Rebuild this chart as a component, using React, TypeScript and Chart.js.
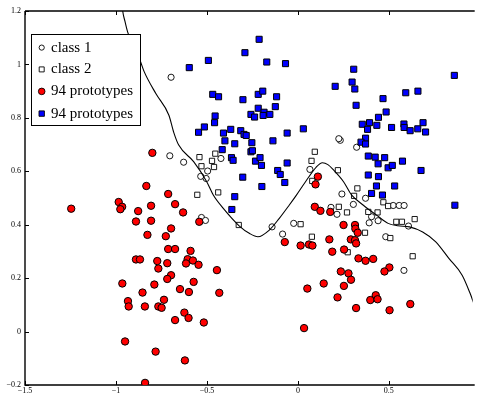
import React, { useEffect, useRef } from 'react';
import { Chart, registerables } from 'chart.js';

Chart.register(...registerables);

// ---- data ----
const class1X = [-0.697, -0.704, -0.423, -0.628, -0.496, -0.534, -0.504, 0.066, 0.233, 0.225, 0.323, 0.242, 0.182, 0.215, 0.305, 0.372, 0.405, 0.392, 0.441, 0.524, 0.557, 0.584, 0.608, 0.483, 0.583, -0.530, -0.508, -0.142, -0.084, -0.023];
const class1Y = [0.952, 0.658, 0.648, 0.634, 0.601, 0.581, 0.573, 0.607, 0.716, 0.722, 0.690, 0.515, 0.465, 0.439, 0.476, 0.499, 0.430, 0.407, 0.415, 0.472, 0.472, 0.472, 0.395, 0.355, 0.229, 0.427, 0.416, 0.392, 0.365, 0.405];

const class2X = [-0.454, -0.541, -0.472, -0.530, -0.461, -0.553, -0.438, 0.093, 0.075, 0.079, 0.220, 0.327, 0.309, 0.225, 0.270, 0.387, 0.438, 0.470, 0.496, 0.541, 0.572, 0.642, 0.369, 0.508, 0.274, 0.631, -0.325, 0.015, 0.077];
const class2Y = [0.666, 0.653, 0.639, 0.619, 0.616, 0.512, 0.521, 0.673, 0.639, 0.564, 0.604, 0.536, 0.508, 0.467, 0.446, 0.448, 0.446, 0.484, 0.470, 0.411, 0.411, 0.421, 0.370, 0.350, 0.297, 0.282, 0.399, 0.402, 0.355];

const redX = [-0.800, -0.833, -0.713, 0.110, 0.097, -1.246, -0.985, -0.966, -0.976, -0.878, -0.807, -0.675, -0.631, -0.542, -0.890, -0.807, -0.827, -0.726, -0.697, -0.713, -0.675, -0.590, -0.890, -0.868, -0.773, -0.718, -0.767, -0.697, -0.718, -0.606, -0.577, -0.615, -0.546, -0.445, -0.573, -0.648, -0.599, -0.432, -0.965, -0.854, -0.789, -0.934, -0.930, -0.841, -0.767, -0.749, -0.736, -0.624, -0.601, -0.675, -0.517, -0.950, -0.782, -0.621, -0.840, -0.072, 0.015, 0.061, 0.080, 0.052, 0.034, 0.093, 0.124, 0.178, 0.251, 0.314, 0.316, 0.329, 0.173, 0.291, 0.314, 0.320, 0.189, 0.254, 0.333, 0.372, 0.414, 0.503, 0.476, 0.236, 0.278, 0.292, 0.142, 0.253, 0.218, 0.428, 0.398, 0.438, 0.618, 0.320, 0.504];
const redY = [0.669, 0.545, 0.515, 0.580, 0.551, 0.460, 0.485, 0.467, 0.458, 0.451, 0.471, 0.477, 0.446, 0.411, 0.412, 0.415, 0.362, 0.357, 0.386, 0.309, 0.309, 0.302, 0.270, 0.270, 0.264, 0.256, 0.236, 0.211, 0.197, 0.271, 0.266, 0.255, 0.250, 0.230, 0.186, 0.159, 0.148, 0.145, 0.180, 0.146, 0.176, 0.114, 0.094, 0.094, 0.094, 0.089, 0.119, 0.071, 0.051, 0.043, 0.034, -0.037, -0.075, -0.108, -0.192, 0.335, 0.322, 0.326, 0.322, 0.161, 0.013, 0.467, 0.452, 0.448, 0.399, 0.399, 0.385, 0.370, 0.345, 0.345, 0.342, 0.330, 0.299, 0.307, 0.274, 0.265, 0.272, 0.240, 0.225, 0.225, 0.218, 0.194, 0.180, 0.171, 0.128, 0.136, 0.118, 0.121, 0.103, 0.088, 0.080];

const blueX = [-0.213, -0.291, -0.492, -0.597, -0.171, -0.068, -0.468, -0.436, -0.302, -0.218, -0.193, -0.117, -0.124, -0.218, -0.258, -0.238, -0.186, -0.191, -0.154, -0.455, -0.458, -0.514, -0.546, -0.409, -0.369, -0.314, -0.296, -0.284, -0.059, 0.030, -0.401, -0.347, -0.253, -0.137, -0.416, -0.258, -0.250, -0.365, -0.356, -0.233, -0.208, -0.200, -0.059, -0.111, -0.097, -0.303, -0.198, -0.072, -0.347, -0.363, 0.307, 0.205, 0.298, 0.313, 0.860, 0.468, 0.593, 0.660, 0.320, 0.485, 0.443, 0.354, 0.394, 0.383, 0.434, 0.515, 0.583, 0.584, 0.617, 0.659, 0.688, 0.702, 0.372, 0.347, 0.372, 0.387, 0.425, 0.477, 0.441, 0.496, 0.519, 0.575, 0.677, 0.387, 0.443, 0.432, 0.532, 0.405, 0.465, 0.863];
const blueY = [1.094, 1.044, 1.015, 0.988, 1.009, 1.003, 0.888, 0.879, 0.868, 0.888, 0.900, 0.879, 0.842, 0.836, 0.813, 0.803, 0.821, 0.809, 0.813, 0.807, 0.782, 0.766, 0.746, 0.743, 0.757, 0.752, 0.738, 0.734, 0.743, 0.759, 0.714, 0.703, 0.707, 0.714, 0.681, 0.673, 0.677, 0.651, 0.641, 0.638, 0.651, 0.622, 0.631, 0.603, 0.588, 0.578, 0.543, 0.558, 0.505, 0.457, 0.982, 0.918, 0.934, 0.908, 0.959, 0.872, 0.894, 0.900, 0.847, 0.822, 0.802, 0.776, 0.782, 0.757, 0.772, 0.764, 0.777, 0.764, 0.752, 0.759, 0.782, 0.747, 0.724, 0.709, 0.702, 0.657, 0.653, 0.651, 0.628, 0.613, 0.622, 0.638, 0.603, 0.586, 0.580, 0.545, 0.545, 0.517, 0.511, 0.473];

const boundaryX = [-0.970, -0.963, -0.950, -0.936, -0.905, -0.872, -0.845, -0.780, -0.709, -0.682, -0.655, -0.573, -0.501, -0.465, -0.410, -0.323, -0.265, -0.220, -0.157, -0.102, -0.048, -0.008, 0.042, 0.100, 0.135, 0.165, 0.197, 0.251, 0.296, 0.360, 0.432, 0.496, 0.550, 0.613, 0.686, 0.758, 0.830, 0.903, 0.945, 0.970];
const boundaryY = [1.250, 1.200, 1.160, 1.122, 1.070, 1.023, 0.973, 0.890, 0.810, 0.745, 0.698, 0.636, 0.561, 0.511, 0.461, 0.396, 0.367, 0.355, 0.380, 0.424, 0.473, 0.511, 0.561, 0.615, 0.632, 0.625, 0.604, 0.561, 0.511, 0.473, 0.436, 0.405, 0.396, 0.392, 0.373, 0.336, 0.274, 0.211, 0.146, 0.100];

const legendLabels = ['class 1', 'class 2', '94 prototypes', '94 prototypes'];

const xTickStep = 0.5;
const yTickStep = 0.2;

const pts = (xs: number[], ys: number[]) => xs.map((x, i) => ({ x, y: ys[i] }));

const fmt = (v: number) => {
  const r = Math.round(v * 10) / 10;
  return String(r).replace('-', '\u2212');
};

const framePlugin = {
  id: 'frame',
  beforeDatasetsDraw(chart: any) {
    const { ctx, chartArea, scales } = chart;
    const { left, right, top, bottom } = chartArea;
    ctx.save();
    ctx.strokeStyle = '#000';
    ctx.lineWidth = 1.4;
    ctx.beginPath();
    ctx.moveTo(left, top);
    ctx.lineTo(right + 2, top);
    ctx.moveTo(left, top);
    ctx.lineTo(left, bottom);
    ctx.lineTo(right + 2, bottom);
    ctx.stroke();
    ctx.lineWidth = 1;
    const tl = 4;
    ctx.beginPath();
    for (const t of scales.x.ticks) {
      const px = Math.round(scales.x.getPixelForValue(t.value)) + 0.5;
      ctx.moveTo(px, bottom);
      ctx.lineTo(px, bottom - tl);
      ctx.moveTo(px, top);
      ctx.lineTo(px, top + tl);
    }
    for (const t of scales.y.ticks) {
      const py = Math.round(scales.y.getPixelForValue(t.value)) + 0.5;
      ctx.moveTo(left, py);
      ctx.lineTo(left + tl, py);
    }
    ctx.stroke();
    ctx.restore();
  },
  afterDraw(chart: any) {
    const { ctx } = chart;
    ctx.save();
    const bx = 31.5, by = 34.5, bw = 109, bh = 91;
    ctx.fillStyle = '#fff';
    ctx.fillRect(bx, by, bw, bh);
    ctx.strokeStyle = '#000';
    ctx.lineWidth = 1;
    ctx.strokeRect(bx, by, bw, bh);
    const rows = [47.6, 69.4, 91.4, 113.6];
    const mx = 41.7;
    ctx.font = '15px "Liberation Serif", "Times New Roman", serif';
    ctx.textBaseline = 'middle';
    ctx.textAlign = 'left';
    legendLabels.forEach((lab, i) => {
      const y = rows[i];
      ctx.beginPath();
      ctx.lineWidth = 0.9;
      ctx.strokeStyle = '#000';
      if (i === 0) {
        ctx.fillStyle = '#fff';
        ctx.arc(mx, y, 2.6, 0, Math.PI * 2);
        ctx.fill();
        ctx.stroke();
      } else if (i === 1) {
        ctx.fillStyle = '#fff';
        ctx.rect(mx - 2.5, y - 2.5, 5, 5);
        ctx.fill();
        ctx.stroke();
      } else if (i === 2) {
        ctx.fillStyle = '#ff0000';
        ctx.arc(mx, y, 3.3, 0, Math.PI * 2);
        ctx.fill();
        ctx.stroke();
      } else {
        ctx.fillStyle = '#0000ff';
        ctx.rect(mx - 2.7, y - 2.7, 5.4, 5.4);
        ctx.fill();
        ctx.stroke();
      }
      ctx.fillStyle = '#000';
      ctx.fillText(lab, 51, y);
    });
    ctx.restore();
  },
};

export default function App() {
  const ref = useRef<HTMLCanvasElement | null>(null);
  useEffect(() => {
    if (!ref.current) return;
    const tickFont = { family: '"Liberation Serif", "Times New Roman", serif', size: 8 };
    const chart = new Chart(ref.current, {
      type: 'scatter',
      data: {
        datasets: [
          {
            label: '94 prototypes (blue)',
            data: pts(blueX, blueY),
            pointStyle: 'rect',
            pointRadius: 4.3,
            backgroundColor: '#0000ff',
            borderColor: '#000',
            borderWidth: 1,
            order: 0,
          },
          {
            label: '94 prototypes (red)',
            data: pts(redX, redY),
            pointStyle: 'circle',
            pointRadius: 3.7,
            backgroundColor: '#ff0000',
            borderColor: '#000',
            borderWidth: 1,
            order: 1,
          },
          {
            label: 'boundary',
            data: pts(boundaryX, boundaryY),
            showLine: true,
            pointRadius: 0,
            borderColor: '#000',
            borderWidth: 1.1,
            cubicInterpolationMode: 'monotone',
            order: 2,
          } as any,
          {
            label: 'class 2',
            data: pts(class2X, class2Y),
            pointStyle: 'rect',
            pointRadius: 3.7,
            backgroundColor: '#fff',
            borderColor: '#000',
            borderWidth: 0.9,
            order: 3,
          },
          {
            label: 'class 1',
            data: pts(class1X, class1Y),
            pointStyle: 'circle',
            pointRadius: 3.1,
            backgroundColor: '#fff',
            borderColor: '#000',
            borderWidth: 0.9,
            order: 4,
          },
        ],
      },
      options: {
        responsive: false,
        animation: false,
        events: [],
        layout: { padding: { top: 11, left: 0, right: 0, bottom: 0 } },
        plugins: { legend: { display: false }, tooltip: { enabled: false }, title: { display: false } },
        scales: {
          x: {
            type: 'linear',
            min: -1.5,
            max: 0.961,
            grid: { display: false, drawTicks: false },
            border: { display: false },
            ticks: {
              stepSize: xTickStep,
              includeBounds: false,
              autoSkip: false,
              maxRotation: 0,
              padding: 1,
              color: '#000',
              font: tickFont,
              callback: (v: any) => fmt(Number(v)),
            },
            afterFit: (s: any) => { s.height = 12; },
          },
          y: {
            type: 'linear',
            min: -0.2,
            max: 1.2,
            grid: { display: false, drawTicks: false },
            border: { display: false },
            ticks: {
              stepSize: yTickStep,
              includeBounds: false,
              autoSkip: false,
              padding: 4,
              color: '#000',
              font: tickFont,
              callback: (v: any) => fmt(Number(v)),
            },
            afterFit: (s: any) => { s.width = 25; },
          },
        },
      },
      plugins: [framePlugin],
    } as any);
    return () => chart.destroy();
  }, []);
  return (
    <div style={{ position: 'fixed', left: 0, top: 0, width: 478, height: 397, background: '#fff', overflow: 'hidden' }}>
      <canvas ref={ref} width={478} height={397} style={{ display: 'block' }} />
    </div>
  );
}
